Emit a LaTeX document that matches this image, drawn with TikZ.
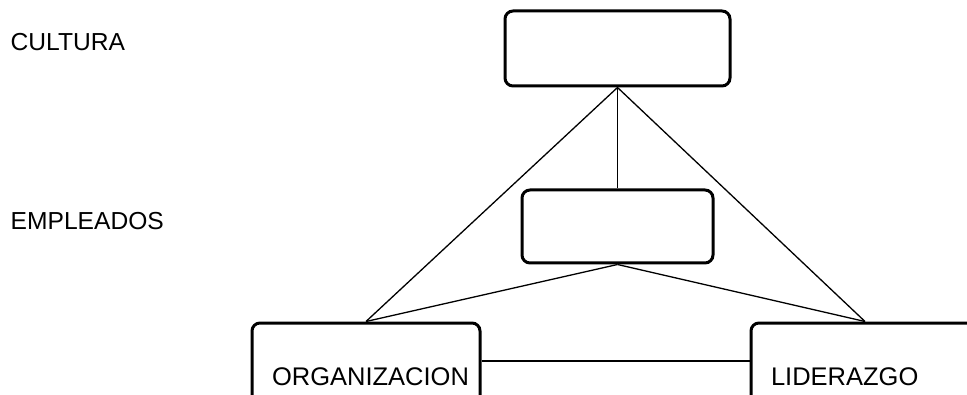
\documentclass[tikz,border=0pt]{standalone}
\usepackage{fontspec}
\setmainfont{Liberation Sans}
\tikzset{
  caja/.style = {draw, line width=3pt, rounded corners=8pt, inner sep=0pt},
  cajatexto/.style = {caja, minimum height=108pt, text width=188pt, inner xsep=20pt, align=left,
    font=\fontsize{25.5}{30}\selectfont},
  nivel/.style = {anchor=base west, inner sep=0pt, font=\fontsize{24.6}{29}\selectfont},
  enlace/.style = {line width=1.3pt}
}

\begin{document}
\begin{tikzpicture}[x=1pt,y=1pt]
  \useasboundingbox (0,0) rectangle (967,394);
  \clip (0,0) rectangle (967,394);
  % levels
  \node[nivel] (cultura) at (10.5,343) {CULTURA};
  \node[nivel] (empleados) at (10.5,164) {EMPLEADOS};
  % boxes
  \node[caja, minimum width=225pt, minimum height=75pt] (top) at (617.5,345.5) {};
  \node[caja, minimum width=191pt, minimum height=73pt] (mid) at (617.5,167.5) {};
  \node[cajatexto] (org) at (366,17) {ORGANIZACION};
  \node[cajatexto] (lid) at (865,17) {LIDERAZGO};
  % links
  \draw[enlace] (top.south) -- (org.north);
  \draw[enlace] (top.south) -- (lid.north);
  \draw[enlace] (top.south) -- (mid.north);
  \draw[enlace] (mid.south) -- (org.north);
  \draw[enlace] (mid.south) -- (lid.north);
  \draw[enlace] ([yshift=16pt]org.east) -- ([yshift=16pt]lid.west);
\end{tikzpicture}
\end{document}
